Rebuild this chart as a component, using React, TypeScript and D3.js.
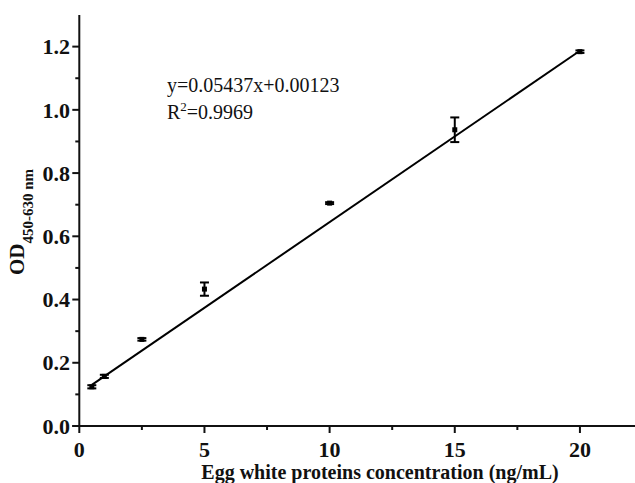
import React from "react";
import * as d3 from "d3";

const concentrations = [0.5, 1, 2.5, 5, 10, 15, 20];
const odMeans = [0.124, 0.157, 0.274, 0.433, 0.705, 0.937, 1.184];
const odErrors = [0.005, 0.005, 0.004, 0.021, 0.003, 0.039, 0.004];
const fitX = [0.5, 20];
const fitY = [0.13, 1.187];
const xMajorTicks = [0, 5, 10, 15, 20];
const xMinorTicks = [2.5, 7.5, 12.5, 17.5];
const yMajorTicks = [0, 0.2, 0.4, 0.6, 0.8, 1.0, 1.2];
const yMinorTicks = [0.1, 0.3, 0.5, 0.7, 0.9, 1.1];
const equationText = "y=0.05437x+0.00123";
const r2Text = "=0.9969";
const xTitle = "Egg white proteins concentration (ng/mL)";

const W = 635;
const H = 483;
const FONT = "'Liberation Serif', 'Times New Roman', serif";

export default function App() {
  const x = d3.scaleLinear().domain([0, 22.2]).range([79.3, 635]);
  const y = d3.scaleLinear().domain([0, 1.3]).range([426, 15]);
  const line = d3
    .line<number>()
    .x((_, i) => x(fitX[i]))
    .y((d) => y(d));

  const axisColor = "#111";
  return (
    <svg
      width={W}
      height={H}
      style={{ position: "absolute", left: 0, top: 0, background: "#fff" }}
      fontFamily={FONT}
    >
      <rect width={W} height={H} fill="#fff" />
      {/* axes */}
      <line x1={x(0)} x2={x(0)} y1={y(1.3)} y2={y(0)} stroke={axisColor} strokeWidth={2} />
      <line x1={x(0) - 7} x2={W} y1={y(0)} y2={y(0)} stroke={axisColor} strokeWidth={2} />
      {yMajorTicks.map((t) => (
        <g key={"ym" + t}>
          <line x1={x(0) - 7} x2={x(0)} y1={y(t)} y2={y(t)} stroke={axisColor} strokeWidth={2} />
          <text
            x={70}
            y={y(t)}
            dy="0.35em"
            textAnchor="end"
            fontWeight="bold"
            fontSize={22}
            fill="#111"
          >
            {d3.format(".1f")(t)}
          </text>
        </g>
      ))}
      {yMinorTicks.map((t) => (
        <line key={"yn" + t} x1={x(0) - 4} x2={x(0)} y1={y(t)} y2={y(t)} stroke={axisColor} strokeWidth={2} />
      ))}
      {xMajorTicks.map((t) => (
        <g key={"xm" + t}>
          <line x1={x(t)} x2={x(t)} y1={y(0)} y2={y(0) + 7} stroke={axisColor} strokeWidth={2} />
          <text x={x(t)} y={457} textAnchor="middle" fontWeight="bold" fontSize={22} fill="#111">
            {t}
          </text>
        </g>
      ))}
      {xMinorTicks.map((t) => (
        <line key={"xn" + t} x1={x(t)} x2={x(t)} y1={y(0)} y2={y(0) + 4} stroke={axisColor} strokeWidth={2} />
      ))}
      {/* axis titles */}
      <text x={380} y={479} textAnchor="middle" fontWeight="bold" fontSize={20} fill="#111">
        {xTitle}
      </text>
      <text
        transform="translate(24,222) rotate(-90)"
        textAnchor="middle"
        fontWeight="bold"
        fill="#111"
      >
        <tspan fontSize={21}>OD</tspan>
        <tspan fontSize={15} dy={9}>450-630 nm</tspan>
      </text>
      {/* fit line */}
      <path d={line(fitY) || ""} fill="none" stroke="#000" strokeWidth={2} />
      {/* error bars and points */}
      {concentrations.map((c, i) => {
        const cx = x(c);
        const top = y(odMeans[i] + odErrors[i]);
        const bot = y(odMeans[i] - odErrors[i]);
        return (
          <g key={"p" + c}>
            <line x1={cx} x2={cx} y1={top} y2={bot} stroke="#000" strokeWidth={2} />
            <line x1={cx - 4.5} x2={cx + 4.5} y1={top} y2={top} stroke="#000" strokeWidth={2} />
            <line x1={cx - 4.5} x2={cx + 4.5} y1={bot} y2={bot} stroke="#000" strokeWidth={2} />
            <rect x={cx - 2.5} y={y(odMeans[i]) - 2.5} width={5} height={5} fill="#000" />
          </g>
        );
      })}
      {/* equation */}
      <text x={167} y={92} fontSize={20} fill="#111">
        {equationText}
      </text>
      <text x={167} y={119} fontSize={20} fill="#111">
        R<tspan fontSize={13} dy={-8}>2</tspan>
        <tspan dy={8}>{r2Text}</tspan>
      </text>
    </svg>
  );
}
